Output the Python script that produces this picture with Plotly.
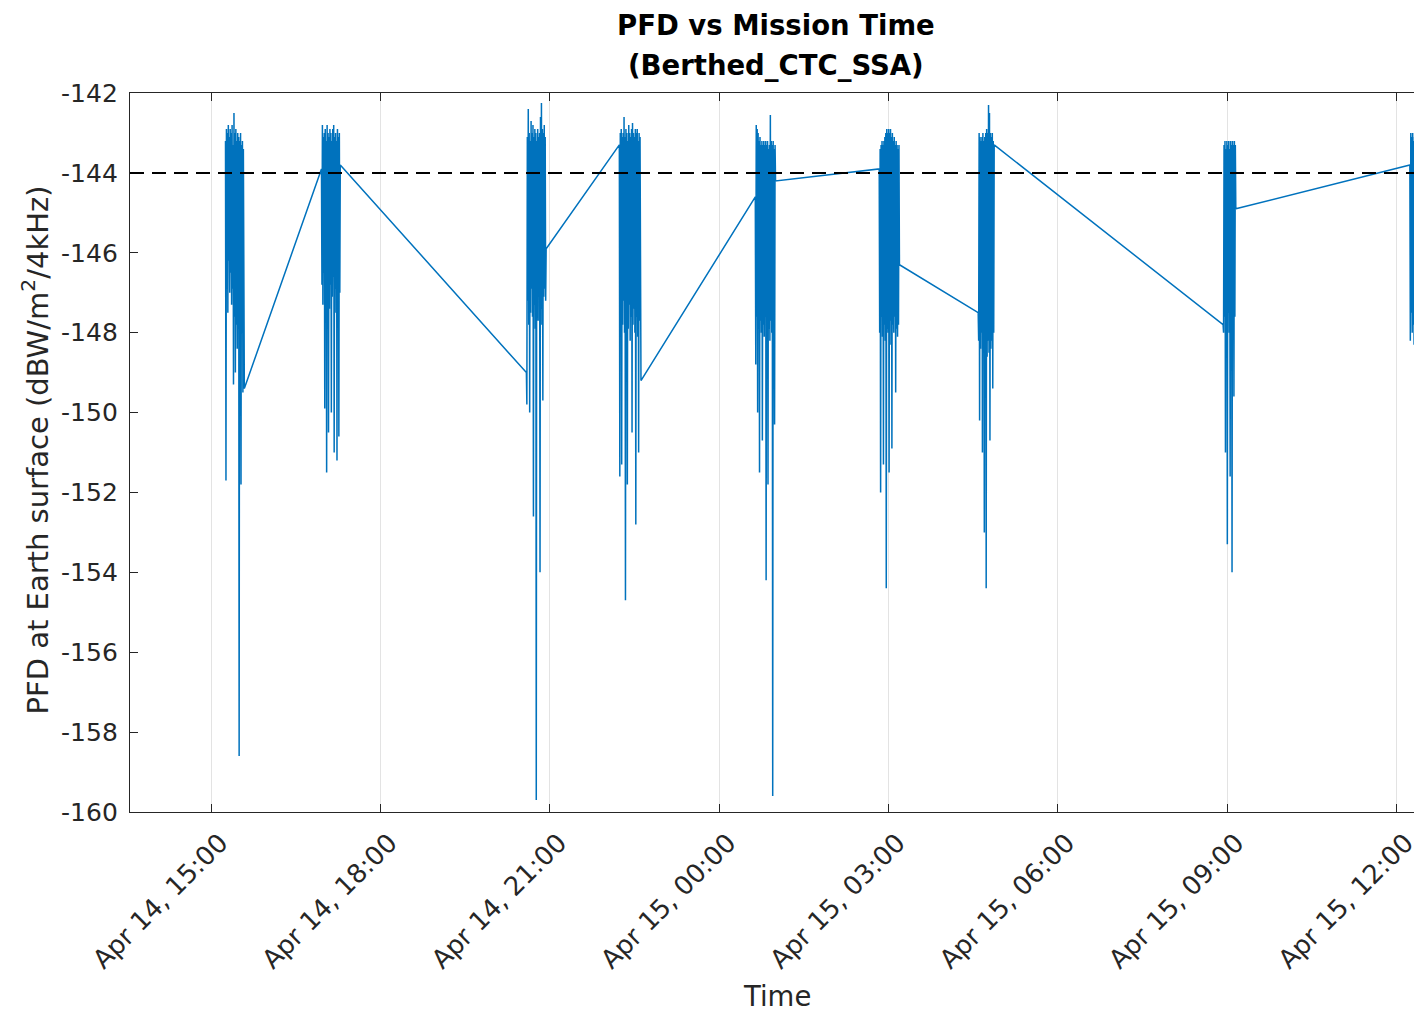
import pandas as pd
import plotly.graph_objects as go

# ---------------- data ----------------
year = "2024"
pass_start = [
    "04-14 15:15:12", "04-14 16:57:12", "04-14 20:35:00", "04-14 22:13:48",
    "04-15 00:38:18", "04-15 02:50:00", "04-15 04:35:12", "04-15 08:55:30",
    "04-15 12:14:00",
]
sample_step_s = 30

pass1 = [-143.2, -151.7, -142.9, -146.8, -143.0, -147.5, -142.8, -146.2, -143.1, -147.0,
         -142.9, -146.5, -143.0, -147.3, -142.8, -146.9, -143.3, -149.3, -142.5, -147.6,
         -143.0, -149.0, -142.9, -147.8, -143.2, -148.4, -143.0, -147.2, -143.1, -158.6,
         -143.2, -148.8, -143.0, -151.8, -143.3, -148.0, -143.2, -149.5, -143.4, -147.6,
         -149.4]
pass2 = [-143.9, -146.8, -142.8, -147.3, -143.1, -146.5, -143.0, -149.9, -142.9, -147.0,
         -143.2, -151.5, -142.8, -146.9, -143.0, -150.5, -143.1, -147.4, -142.9, -146.8,
         -143.0, -150.0, -143.2, -147.1, -142.9, -146.6, -142.8, -151.0, -143.1, -147.5,
         -143.0, -146.9, -143.2, -151.2, -142.9, -147.2, -143.1, -150.6, -143.0, -147.0,
         -143.8]
pass3 = [-149.0, -149.8, -143.1, -147.2, -142.4, -147.8, -143.0, -150.0, -143.2, -147.5,
         -142.7, -146.9, -143.0, -147.6, -142.8, -152.6, -143.1, -147.3, -142.9, -147.9,
         -143.0, -159.7, -143.2, -147.0, -142.9, -147.7, -143.1, -146.8, -143.0, -154.0,
         -142.6, -147.4, -142.25, -147.8, -142.9, -149.7, -143.0, -147.1, -142.8, -146.9,
         -143.1, -147.2, -145.9]
pass4 = [-143.3, -151.6, -143.0, -147.4, -142.9, -151.3, -143.1, -147.8, -143.0, -147.2,
         -142.6, -148.0, -143.1, -154.7, -142.9, -147.5, -143.0, -151.8, -143.2, -147.9,
         -142.8, -147.3, -143.0, -148.2, -143.1, -147.6, -142.9, -150.5, -142.75, -147.8,
         -143.0, -147.4, -143.1, -148.0, -142.9, -152.8, -143.0, -147.6, -142.9, -148.1,
         -143.2, -151.0, -143.0, -147.7, -143.1, -148.3, -149.2]
pass5 = [-144.6, -148.8, -142.8, -147.6, -142.9, -150.0, -143.0, -147.9, -143.2, -151.5,
         -143.1, -147.7, -143.3, -148.0, -143.2, -150.7, -143.3, -147.8, -143.2, -148.1,
         -143.3, -147.6, -143.2, -154.2, -143.3, -148.0, -143.2, -151.8, -143.4, -147.9,
         -143.3, -148.2, -142.55, -147.7, -143.2, -148.0, -143.3, -159.6, -143.2, -147.8,
         -143.4, -150.3, -143.3, -144.2]
pass6 = [-143.9, -148.0, -143.4, -152.0, -143.3, -147.6, -143.2, -148.1, -143.3, -151.3,
         -143.2, -147.8, -143.1, -148.2, -143.0, -154.4, -142.9, -147.9, -143.0, -148.0,
         -142.9, -151.5, -143.0, -147.7, -142.9, -148.3, -143.1, -150.9, -143.0, -147.8,
         -143.2, -148.0, -143.1, -147.6, -143.3, -149.5, -143.2, -147.9, -143.3, -148.1,
         -143.4, -147.8, -143.3, -146.3]
pass7 = [-147.5, -148.2, -143.0, -150.2, -143.1, -148.4, -143.2, -148.0, -143.1, -151.0,
         -143.0, -148.5, -143.2, -153.0, -143.1, -148.3, -143.0, -154.4, -142.9, -148.6,
         -143.0, -148.2, -142.3, -148.5, -142.5, -150.7, -143.0, -148.4, -143.1, -148.2,
         -143.0, -149.4, -143.2, -148.0, -143.3]
pass8 = [-147.8, -148.0, -143.3, -147.6, -143.2, -151.0, -143.4, -147.8, -143.2, -153.3,
         -143.3, -147.5, -143.2, -148.0, -143.4, -151.6, -143.2, -147.7, -143.3, -154.0,
         -143.2, -147.9, -143.3, -149.6, -143.2, -147.6, -143.3, -144.9]
pass9 = [-143.8, -148.2, -143.0, -147.5, -143.1, -148.0, -143.0, -147.8, -143.2, -148.3,
         -143.1, -147.6, -143.0, -148.1, -143.2, -147.9, -143.1, -148.0, -143.0, -147.7]

pass_values = [pass1, pass2, pass3, pass4, pass5, pass6, pass7, pass8, pass9]
pfd_limit = -144

x_range = ["2024-04-14 13:33:42", "2024-04-15 12:18:24"]
y_range = [-160, -142]
y_tick_vals = [-160, -158, -156, -154, -152, -150, -148, -146, -144, -142]
y_tick_text = [str(v) for v in y_tick_vals]
tick_start = "2024-04-14 15:00"
tick_step_h = 3

# ---------------- build series ----------------
times, values = [], []
for start, vals in zip(pass_start, pass_values):
    t = pd.date_range(pd.Timestamp(f"{year}-{start}"), periods=len(vals),
                      freq=f"{sample_step_s}s")
    times.extend(t)
    values.extend(vals)

FONT = "DejaVu Sans"
AX = "#262626"

fig = go.Figure()
fig.add_trace(go.Scatter(x=times, y=values, mode="lines",
                         line=dict(color="#0072BD", width=1.5),
                         showlegend=False, hoverinfo="skip"))

fig.add_shape(type="line", xref="paper", x0=0, x1=1, yref="y",
              y0=pfd_limit, y1=pfd_limit, layer="above",
              line=dict(color="#000000", width=2, dash="14px,8px"))

fig.update_layout(
    width=1414, height=1013,
    margin=dict(l=130, r=0, t=93, b=201, autoexpand=False),
    paper_bgcolor="white", plot_bgcolor="white",
    font=dict(family=FONT, color=AX, size=25),
    showlegend=False,
)
fig.update_xaxes(
    range=x_range, type="date", automargin=False,
    tick0=tick_start, dtick=tick_step_h * 3600 * 1000,
    tickformat="%b %d, %H:%M", tickangle=-45,
    ticks="inside", ticklen=8, tickwidth=1.3, tickcolor=AX,
    showline=True, linecolor=AX, linewidth=1.3, mirror="ticks",
    showgrid=True, gridcolor="#e3e3e3", gridwidth=1,
    zeroline=False, tickfont=dict(size=26, family=FONT, color=AX),
    ticklabelshift=9, ticklabelstandoff=4, ticklabeloverflow="allow",
)
fig.update_yaxes(
    range=y_range, tickmode="array", tickvals=y_tick_vals, ticktext=y_tick_text,
    automargin=False,
    ticks="inside", ticklen=8, tickwidth=1.3, tickcolor=AX,
    showline=True, linecolor=AX, linewidth=1.3, mirror=False,
    showgrid=False, zeroline=False,
    tickfont=dict(size=25, family=FONT, color=AX),
    ticklabelstandoff=6,
)

# titles
fig.add_annotation(text="<b>PFD vs Mission Time</b>", xref="paper", yref="paper",
                   x=0.503, y=1.0946, xanchor="center", yanchor="middle",
                   showarrow=False, font=dict(size=27.5, family=FONT, color="#000"))
fig.add_annotation(text="<b>(Berthed_CTC_SSA)</b>", xref="paper", yref="paper",
                   x=0.503, y=1.0389, xanchor="center", yanchor="middle",
                   showarrow=False, font=dict(size=27.5, family=FONT, color="#000"))
fig.add_annotation(text="Time", xref="paper", yref="paper",
                   x=0.504, y=-0.2559, xanchor="center", yanchor="middle",
                   showarrow=False, font=dict(size=27.5, family=FONT, color=AX))
fig.add_annotation(text="PFD at Earth surface (dBW/m<sup>2</sup>/4kHz)",
                   xref="paper", yref="paper", textangle=-90,
                   x=-0.0736, y=0.5035, xanchor="center", yanchor="middle",
                   showarrow=False, font=dict(size=29, family=FONT, color=AX))

fig.write_html("out.html")
